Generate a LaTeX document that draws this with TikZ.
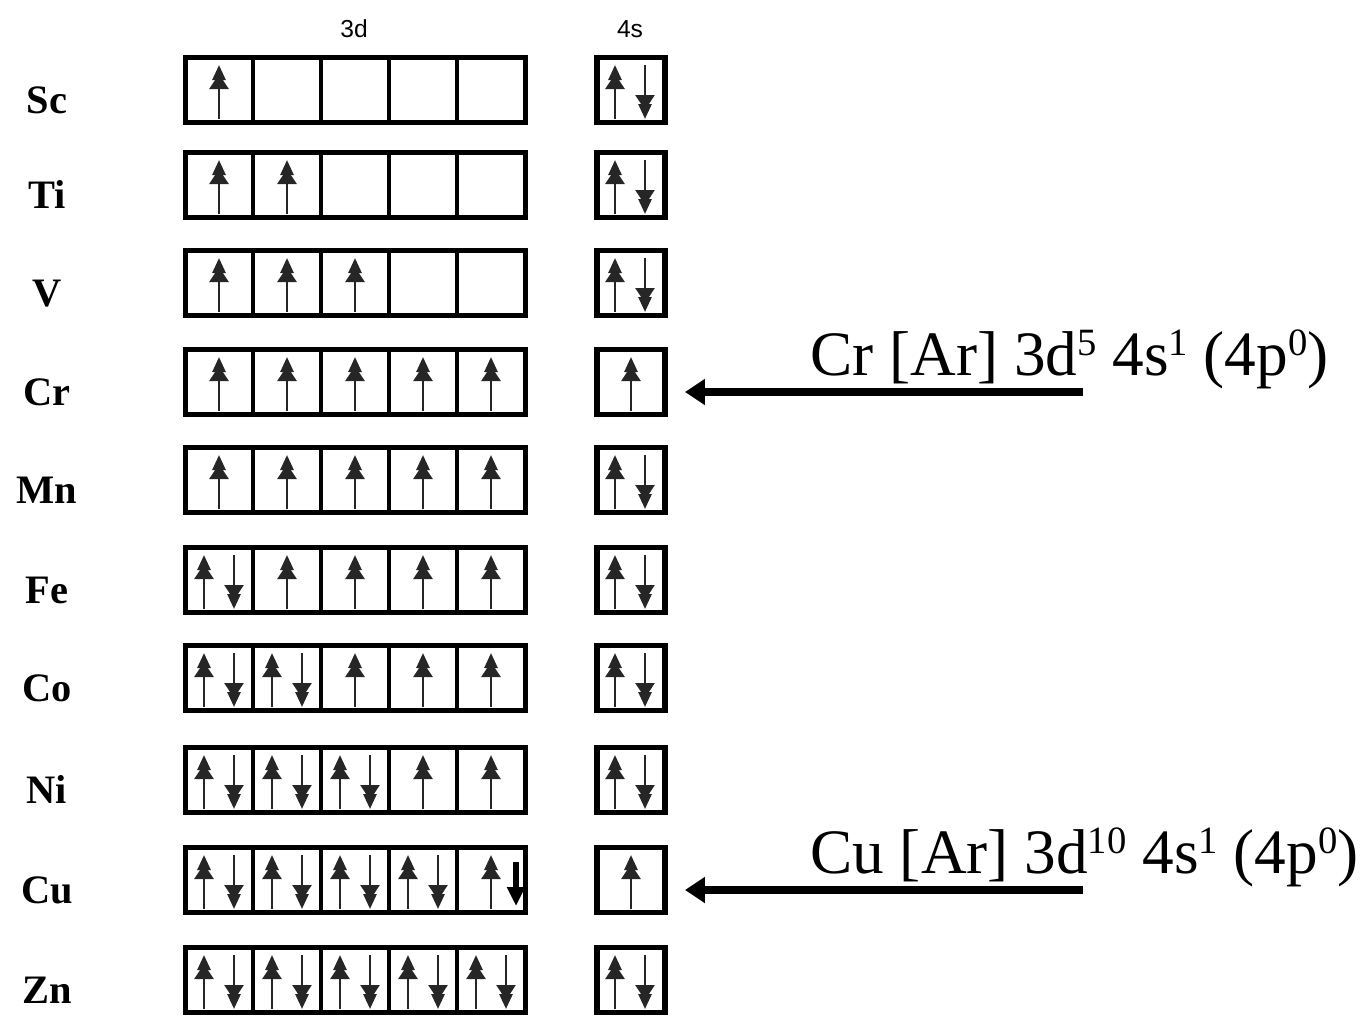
\documentclass[tikz,border=0pt]{standalone}
\usepackage{fontspec}
\setmainfont{Liberation Serif}
\newfontfamily\shellfont{Liberation Sans}
\usetikzlibrary{arrows.meta,calc}
\newcommand\sups[1]{\raisebox{11pt}{\fontsize{22}{22}\selectfont #1}}

\tikzset{
 orb/.style={draw,line width=0.08cm,minimum width=1.36cm,minimum height=1.3cm,inner sep=0,outer sep=0},
 frame/.style={line width=0.1cm},
 sorb/.style={orb,line width=0.11cm},
 elem/.style={font=\fontsize{23}{23}\selectfont\bfseries,anchor=base,inner sep=0},
 shell/.style={font=\shellfont\fontsize{14}{14}\selectfont,inner sep=0},
 spin/.style={line width=0.055cm,black!85,
   -{Triangle[length=0.3cm,width=0.38cm,sep=-0.12cm]Triangle[length=0.3cm,width=0.26cm]}},
 boldspin/.style={line width=0.11cm,-{Triangle[length=0.38cm,width=0.34cm]}},
 pointer/.style={line width=0.16cm,-{Triangle[length=0.4cm,width=0.5cm]}},
 note/.style={font=\fontsize{36}{36}\selectfont,anchor=base west,inner sep=0}
}

\begin{document}
\begin{tikzpicture}[x=0.02cm,y=-0.02cm]
 \useasboundingbox (0,0) rectangle (1368,1015);
 % shell headings
 \node[shell] (d3) at (354,29) {3d};
 \node[shell] (s4) at (630,29) {4s};
 % one row per element: name/top/3d filling/4s filling
 \foreach \el/\yy/\occ/\socc in {Sc/55/{1,0,0,0,0}/2, Ti/150/{1,1,0,0,0}/2,
   V/248/{1,1,1,0,0}/2, Cr/347/{1,1,1,1,1}/1, Mn/445/{1,1,1,1,1}/2,
   Fe/545/{2,1,1,1,1}/2, Co/643/{2,2,1,1,1}/2, Ni/745/{2,2,2,1,1}/2,
   Cu/845/{2,2,2,2,1}/1, Zn/945/{2,2,2,2,2}/2}{
  \node[elem] (\el) at (47,\yy+58) {\el};
  \foreach \n [count=\k] in \occ {
   \node[orb] (\el-d\k) at (151+68*\k,\yy+35) {};
   \ifnum\n=1 \draw[spin] ($(\el-d\k)+(0,29)$) -- ($(\el-d\k)+(0,-25)$); \fi
   \ifnum\n=2
    \draw[spin] ($(\el-d\k)+(-15,29)$) -- ($(\el-d\k)+(-15,-25)$);
    \draw[spin] ($(\el-d\k)+(15,-25)$) -- ($(\el-d\k)+(15,29)$);
   \fi
  }
  \draw[frame] (\el-d1.north west) rectangle (\el-d5.south east);
  \node[sorb] (\el-s) at (631,\yy+35) {};
  \ifnum\socc=1 \draw[spin] ($(\el-s)+(0,29)$) -- ($(\el-s)+(0,-25)$); \fi
  \ifnum\socc=2
   \draw[spin] ($(\el-s)+(-16,29)$) -- ($(\el-s)+(-16,-25)$);
   \draw[spin] ($(\el-s)+(14,-25)$) -- ($(\el-s)+(14,29)$);
  \fi
 }
 % the extra electron of copper
 \draw[boldspin] ($(Cu-d5)+(25,-18)$) -- ($(Cu-d5)+(25,26)$);
 % notes
 \node[note] (crnote) at (810,375) {Cr [Ar] 3d\sups{5} 4s\sups{1} (4p\sups{0})};
 \node[note] (cunote) at (810,873) {Cu [Ar] 3d\sups{10} 4s\sups{1} (4p\sups{0})};
 \coordinate (crtail) at (1083,392);
 \coordinate (cutail) at (1083,890);
 \draw[pointer,shorten >=0.4cm] (crtail) -- (Cr-s.east |- crtail);
 \draw[pointer,shorten >=0.4cm] (cutail) -- (Cu-s.east |- cutail);
\end{tikzpicture}
\end{document}
